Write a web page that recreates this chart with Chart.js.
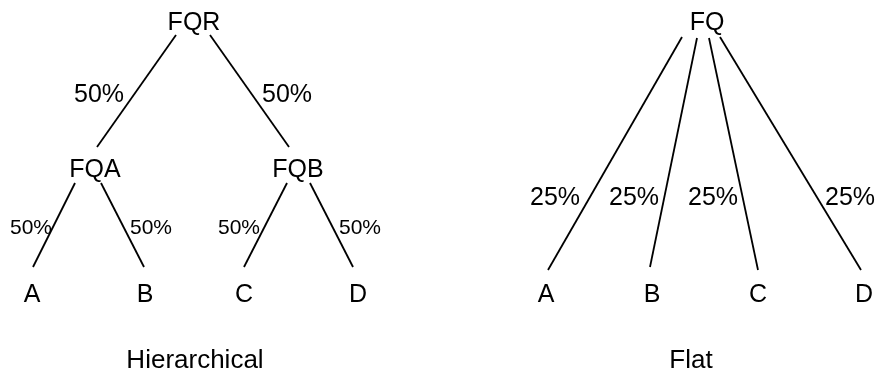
<!DOCTYPE html>
<html>
<head>
<meta charset="utf-8">
<script src="https://cdn.jsdelivr.net/npm/chart.js@4"></script>
<style>
  body { margin: 0; background: #fff; }
  #wrap { width: 876px; height: 373px; position: relative; }
</style>
</head>
<body>
<div id="wrap"><canvas id="tree"></canvas></div>
<script>
// ── DATA ───────────────────────────────────────────────────────
// nodes (label text + cap-centre in chart units, 1 unit = 1 px of the figure)
const nodeNames = ['FQR', 'FQA', 'FQB', 'A', 'B', 'C', 'D', 'FQ', 'A', 'B', 'C', 'D'];
const nodeX     = [194, 95, 298, 32, 145, 244, 358, 707, 546, 652, 758, 864];
const nodeY     = [21, 168, 168, 293, 293, 293, 293, 21, 293, 293, 293, 293];

// edges: start / end of each connector line
const edgeX1 = [176, 210, 75, 101, 287, 310, 682, 697, 709, 720];
const edgeY1 = [35, 35, 183, 183, 183, 183, 37, 38, 38, 37];
const edgeX2 = [97, 289, 33, 144, 244, 353, 548, 650, 758, 861];
const edgeY2 = [147, 147, 267, 267, 267, 267, 270, 267, 270, 270];

// weight labels on edges
const weightText = ['50%', '50%', '50%', '50%', '50%', '50%', '25%', '25%', '25%', '25%'];
const weightX    = [99, 287, 31, 151, 239, 360, 555, 634, 713, 850];
const weightY    = [93, 93, 226, 226, 226, 226, 196, 196, 196, 196];
const weightSize = [25, 25, 21, 21, 21, 21, 25, 25, 25, 25];

// panel captions
const captions = ['Hierarchical', 'Flat'];
const captionX = [195, 691];
const captionY = [359, 359];

// ── CHART ──────────────────────────────────────────────────────
const FONT = '"Liberation Sans", Arial, sans-serif';

const datasets = edgeX1.map((x, i) => ({
  data: [{ x: x, y: edgeY1[i] }, { x: edgeX2[i], y: edgeY2[i] }],
  showLine: true,
  borderColor: '#000',
  borderWidth: 1.8,
  pointRadius: 0,
  fill: false,
}));

const textPlugin = {
  id: 'treeText',
  afterDatasetsDraw(chart) {
    const { ctx, scales: { x, y } } = chart;
    ctx.save();
    ctx.fillStyle = '#000';
    ctx.textAlign = 'center';
    ctx.textBaseline = 'alphabetic';
    // y values are the centre of the capitals, so drop to the baseline
    const put = (t, px, py, size) => {
      ctx.font = size + 'px ' + FONT;
      ctx.fillText(t, x.getPixelForValue(px), y.getPixelForValue(py) + size * 0.36);
    };
    nodeNames.forEach((n, i) => put(n, nodeX[i], nodeY[i], 25));
    weightText.forEach((t, i) => put(t, weightX[i], weightY[i], weightSize[i]));
    captions.forEach((c, i) => put(c, captionX[i], captionY[i], 26));
    ctx.restore();
  }
};

new Chart(document.getElementById('tree'), {
  type: 'scatter',
  data: { datasets },
  options: {
    responsive: true,
    maintainAspectRatio: false,
    animation: false,
    layout: { padding: 0 },
    plugins: { legend: { display: false }, tooltip: { enabled: false } },
    scales: {
      x: { type: 'linear', min: 0, max: 876, display: false },
      y: { type: 'linear', min: 0, max: 373, reverse: true, display: false }
    }
  },
  plugins: [textPlugin]
});
</script>
</body>
</html>
